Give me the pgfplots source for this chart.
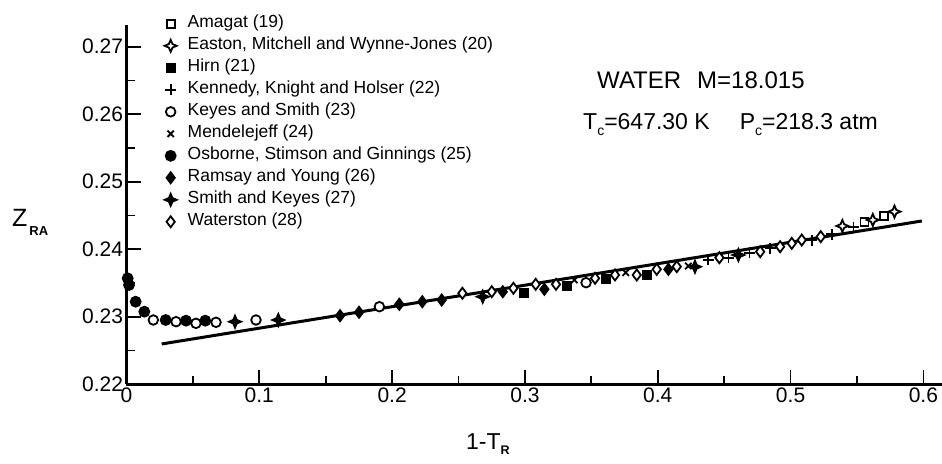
\documentclass[border=0pt]{standalone}
\usepackage{fontspec}
\setmainfont{Liberation Sans}
\usepackage{pgfplots}
\pgfplotsset{compat=1.18}

% four-pointed star, filled with the mark's fill colour
\pgfdeclareplotmark{star4}{%
  \pgfpathmoveto{\pgfpoint{0pt}{\pgfplotmarksize}}%
  \pgfpathlineto{\pgfpoint{0.3\pgfplotmarksize}{0.3\pgfplotmarksize}}%
  \pgfpathlineto{\pgfpoint{\pgfplotmarksize}{0pt}}%
  \pgfpathlineto{\pgfpoint{0.3\pgfplotmarksize}{-0.3\pgfplotmarksize}}%
  \pgfpathlineto{\pgfpoint{0pt}{-\pgfplotmarksize}}%
  \pgfpathlineto{\pgfpoint{-0.3\pgfplotmarksize}{-0.3\pgfplotmarksize}}%
  \pgfpathlineto{\pgfpoint{-\pgfplotmarksize}{0pt}}%
  \pgfpathlineto{\pgfpoint{-0.3\pgfplotmarksize}{0.3\pgfplotmarksize}}%
  \pgfpathclose
  \pgfusepathqfillstroke}

\pgfplotsset{
  open/.style={mark options={solid, line width=1.8pt, fill=white}},
  full/.style={mark options={solid, line width=1.8pt, fill=black}},
}

\begin{document}
\begin{tikzpicture}
\useasboundingbox (-126.5pt,-78.8pt) rectangle (815.5pt,384.2pt);
\begin{axis}[
  scale only axis,
  width=815.5pt, height=359.1pt,
  xmin=0, xmax=0.614, ymin=0.22, ymax=0.2732,
  clip=false,
  axis x line*=bottom, axis y line*=left,
  axis line style={line width=2.8pt, -},
  tick align=inside,
  major tick length=14pt, minor tick length=8pt,
  tick style={line width=1.8pt, black},
  xtick={0,0.1,0.2,0.3,0.4,0.5,0.6},
  minor xtick={0.05,0.15,0.25,0.35,0.45,0.55},
  ytick={0.22,0.23,0.24,0.25,0.26,0.27},
  minor ytick={0.225,0.235,0.245,0.255,0.265},
  ticklabel style={font=\fontsize{21}{21}\selectfont},
  /pgf/number format/assume math mode=true,
  xticklabel style={/pgf/number format/.cd, fixed, precision=1},
  yticklabel style={/pgf/number format/.cd, fixed, fixed zerofill, precision=2},
  xlabel={\fontsize{23}{23}\selectfont 1-T\raisebox{-5pt}{\fontsize{12.5}{12.5}\selectfont\bfseries R}},
  xlabel style={at={(axis description cs:0.4163,-0.1832)}, anchor=base west, inner sep=0pt},
  ylabel={\fontsize{25}{25}\selectfont Z\hspace{2pt}\raisebox{-9pt}{\fontsize{13}{13}\selectfont\bfseries RA}},
  ylabel style={rotate=-90, at={(axis description cs:-0.1404,0.4405)}, anchor=base west, inner sep=0pt},
  legend style={at={(axis description cs:0.0429,1.032)}, anchor=north west,
    draw=none, fill=none, font=\fontsize{17.5}{18}\selectfont,
    row sep=6pt, column sep=11pt,
    nodes={inner sep=0pt, text height=12pt, text depth=4pt}},
  legend cell align=left,
  every axis plot/.append style={black, only marks},
]

% Amagat (19)
\addplot [mark=square*, mark size=4pt, open] coordinates {
  (0.5556,0.24407) (0.5704,0.24496)};
% Easton, Mitchell and Wynne-Jones (20)
\addplot [mark=star4, mark size=6pt, open] coordinates {
  (0.5390,0.24344) (0.5619,0.24433) (0.5782,0.24556)};
% Hirn (21)
\addplot [mark=square*, mark size=4pt, full] coordinates {
  (0.2995,0.23356) (0.3315,0.23455) (0.3608,0.23554) (0.3917,0.23618)};
% Kennedy, Knight and Holser (22)
\addplot [mark=+, mark size=5.5pt, full] coordinates {
  (0.4381,0.23840) (0.4532,0.23874) (0.4690,0.23948) (0.4845,0.24013)
  (0.5160,0.24136) (0.5310,0.24221) (0.5473,0.24324)};
% Keyes and Smith (23)
\addplot [mark=*, mark size=4.8pt, open] coordinates {
  (0.0202,0.22951) (0.0373,0.22926) (0.0523,0.22902) (0.0674,0.22917)
  (0.0975,0.22951) (0.1904,0.23148) (0.3460,0.23504)};
% Mendelejeff (24)
\addplot [mark=x, mark size=4.5pt, full] coordinates {
  (0.3372,0.23544) (0.3759,0.23652) (0.4230,0.23751)};
% Osborne, Stimson and Ginnings (25)
\addplot [mark=*, mark size=5pt, full] coordinates {
  (0.0009,0.23569) (0.0019,0.23470) (0.0069,0.23222) (0.0134,0.23074)
  (0.0295,0.22951) (0.0448,0.22941) (0.0593,0.22941)};
% Ramsay and Young (26)
\addplot [mark=diamond*, mark size=5.5pt, full] coordinates {
  (0.1608,0.23015) (0.1751,0.23065) (0.2054,0.23184) (0.2227,0.23222)
  (0.2373,0.23247) (0.2833,0.23370) (0.3146,0.23406) (0.4080,0.23702)};
% Smith and Keyes (27)
\addplot [mark=star4, mark size=6pt, full] coordinates {
  (0.0817,0.22926) (0.1143,0.22951) (0.2682,0.23296) (0.4280,0.23740)
  (0.4607,0.23914)};
% Waterston (28)
\addplot [mark=diamond*, mark size=5.5pt, open] coordinates {
  (0.2529,0.23347) (0.2750,0.23370) (0.2913,0.23421) (0.3081,0.23480)
  (0.3234,0.23480) (0.3528,0.23569) (0.3678,0.23618) (0.3842,0.23618)
  (0.3992,0.23702) (0.4143,0.23741) (0.4464,0.23874) (0.4771,0.23963)
  (0.4921,0.24037) (0.5009,0.24087) (0.5084,0.24136) (0.5227,0.24185)};

% correlating line
\addplot [no marks, sharp plot, line width=3pt, forget plot] coordinates {
  (0.0265,0.22596) (0.5988,0.24418)};

\legend{Amagat (19), {Easton, Mitchell and Wynne-Jones (20)}, Hirn (21),
  {Kennedy, Knight and Holser (22)}, Keyes and Smith (23), Mendelejeff (24),
  {Osborne, Stimson and Ginnings (25)}, Ramsay and Young (26),
  Smith and Keyes (27), Waterston (28)}

\node [anchor=base west, inner sep=0pt, font=\fontsize{24}{24}\selectfont]
  at (axis description cs:0.577,0.824) {WATER\hspace{16pt}M=18.015};
\node [anchor=base west, inner sep=0pt, font=\fontsize{23}{23}\selectfont]
  at (axis description cs:0.5598,0.7079)
  {T\raisebox{-6pt}{\fontsize{14}{14}\selectfont c}=647.30 K\hspace{30pt}P\raisebox{-6pt}{\fontsize{14}{14}\selectfont c}=218.3 atm};
\end{axis}
\end{tikzpicture}
\end{document}
